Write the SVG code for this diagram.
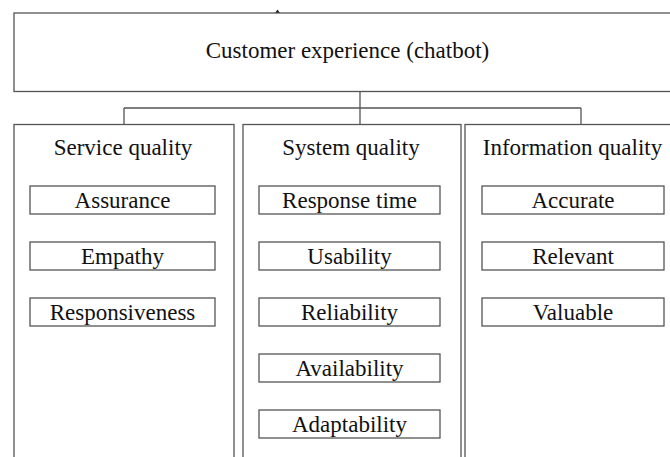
<svg xmlns="http://www.w3.org/2000/svg" width="670" height="457" viewBox="0 0 670 457">
<style>
.box{fill:#fff;stroke:#555;stroke-width:1.3}
.conn{fill:none;stroke:#555;stroke-width:1.3}
.t{font-family:"Liberation Serif","Times New Roman",serif;font-size:23px;fill:#111;text-anchor:middle}
</style>
<rect width="670" height="457" fill="#fff"/>
<path d="M275 13 L277.5 9.5 L280 13 Z" fill="#222"/>
<g id="connectors">
<path class="conn" d="M360 91.5 V124.5 M124 108 H581 M124 108 V124.5 M581 108 V124.5"/>
</g>
<g id="root">
<rect class="box" x="14" y="13" width="680" height="78.5"/>
<text class="t" x="347.5" y="58">Customer experience (chatbot)</text>
</g>
<g id="service-quality">
<rect class="box" x="14" y="124.5" width="220" height="345"/>
<text class="t" x="123" y="155">Service quality</text>
</g>
<g id="system-quality">
<rect class="box" x="243" y="124.5" width="218" height="345"/>
<text class="t" x="351" y="155">System quality</text>
</g>
<g id="information-quality">
<rect class="box" x="465" y="124.5" width="230" height="345"/>
<text class="t" x="572.5" y="155">Information quality</text>
</g>
<g id="assurance"><rect class="box" x="30" y="186" width="185" height="28"/><text class="t" x="122.5" y="208">Assurance</text></g>
<g id="empathy"><rect class="box" x="30" y="242" width="185" height="28"/><text class="t" x="122.5" y="264">Empathy</text></g>
<g id="responsiveness"><rect class="box" x="30" y="298" width="185" height="28"/><text class="t" x="122.5" y="320">Responsiveness</text></g>
<g id="response-time"><rect class="box" x="259" y="186" width="181" height="28"/><text class="t" x="349.5" y="208">Response time</text></g>
<g id="usability"><rect class="box" x="259" y="242" width="181" height="28"/><text class="t" x="349.5" y="264">Usability</text></g>
<g id="reliability"><rect class="box" x="259" y="298" width="181" height="28"/><text class="t" x="349.5" y="320">Reliability</text></g>
<g id="availability"><rect class="box" x="259" y="354" width="181" height="28"/><text class="t" x="349.5" y="376">Availability</text></g>
<g id="adaptability"><rect class="box" x="259" y="410" width="181" height="28"/><text class="t" x="349.5" y="432">Adaptability</text></g>
<g id="accurate"><rect class="box" x="482" y="186" width="182" height="28"/><text class="t" x="573" y="208">Accurate</text></g>
<g id="relevant"><rect class="box" x="482" y="242" width="182" height="28"/><text class="t" x="573" y="264">Relevant</text></g>
<g id="valuable"><rect class="box" x="482" y="298" width="182" height="28"/><text class="t" x="573" y="320">Valuable</text></g>
</svg>
